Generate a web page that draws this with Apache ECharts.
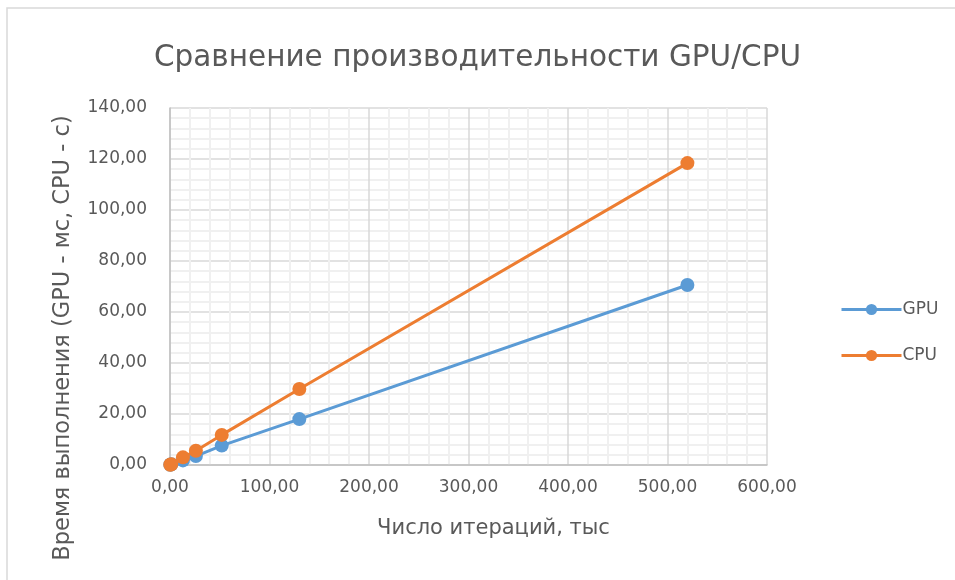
<!DOCTYPE html>
<html>
<head>
<meta charset="utf-8">
<script src="https://cdn.jsdelivr.net/npm/echarts@6/dist/echarts.min.js"></script>
<style>
  html, body { margin: 0; padding: 0; background: #fff; }
  #chart { width: 955px; height: 580px; }
</style>
</head>
<body>
<div id="chart"></div>
<script>
// Iterations (thousands) and run times
const iterations = [0.26, 1.3, 13, 26, 52, 130, 520];
const gpuTime = [0.1, 0.3, 1.8, 3.5, 7.6, 18.0, 70.6];
const cpuTime = [0.1, 0.3, 3.0, 5.6, 11.8, 29.8, 118.4];
const seriesNames = ['GPU', 'CPU'];
const seriesColors = ['#5b9bd5', '#ed7d31'];

const FONT = '"DejaVu Sans", "Open Sans", sans-serif';
const TEXT = '#595959';
const fmt = v => v.toFixed(2).replace('.', ',');

const pairs = (xs, ys) => xs.map((x, i) => [x, ys[i]]);

const chart = echarts.init(document.getElementById('chart'), null, { renderer: 'canvas' });

const makeSeries = (name, data, color) => ({
  name,
  type: 'line',
  data,
  symbol: 'circle',
  symbolSize: 14,
  lineStyle: { color, width: 3 },
  itemStyle: { color },
  emphasis: { disabled: true },
  animation: false,
  z: name === 'CPU' ? 3 : 2
});

chart.setOption({
  backgroundColor: '#ffffff',
  animation: false,
  title: {
    text: 'Сравнение производительности GPU/CPU',
    left: 'center',
    top: 38,
    textStyle: { fontFamily: FONT, fontSize: 29.5, fontWeight: 'normal', color: TEXT }
  },
  graphic: [{
    type: 'rect',
    shape: { x: 7, y: 8, width: 960, height: 600 },
    style: { fill: 'none', stroke: '#d9d9d9', lineWidth: 1.5 },
    silent: true,
    z: -1
  }, {
    // vertical axis title, placed by hand so it can sit below the plot's mid-line
    type: 'text',
    x: 63,
    y: 338,
    rotation: Math.PI / 2,
    silent: true,
    style: {
      text: 'Время выполнения (GPU - мс, CPU - с)',
      fontFamily: FONT,
      fontSize: 22.5,
      fill: TEXT,
      align: 'center',
      verticalAlign: 'middle'
    }
  }],
  legend: {
    orient: 'vertical',
    left: 835,
    top: 296,
    itemGap: 29,
    itemWidth: 60,
    itemHeight: 14,
    data: seriesNames,
    lineStyle: { width: 3 },
    textStyle: { fontFamily: FONT, fontSize: 17, color: TEXT, padding: [0, 0, 0, -4] }
  },
  grid: { left: 170, right: 188, top: 108, bottom: 115 },
  xAxis: {
    type: 'value',
    min: 0, max: 600, interval: 100,
    name: 'Число итераций, тыс',
    nameLocation: 'middle',
    nameGap: 53,
    nameTextStyle: { fontFamily: FONT, fontSize: 21, color: TEXT, padding: [0, 0, 0, 50] },
    axisLine: { show: true, lineStyle: { color: '#bfbfbf', width: 1.5 } },
    axisTick: { show: false },
    axisLabel: { fontFamily: FONT, fontSize: 17, color: TEXT, margin: 14, formatter: fmt },
    splitLine: { show: true, lineStyle: { color: '#d9d9d9', width: 1.5 } },
    minorTick: { show: false, splitNumber: 5 },
    minorSplitLine: { show: true, lineStyle: { color: '#f0f0f0', width: 2 } }
  },
  yAxis: {
    type: 'value',
    min: 0, max: 140, interval: 20,
    axisLine: { show: true, lineStyle: { color: '#bfbfbf', width: 1.5 } },
    axisTick: { show: false },
    axisLabel: { fontFamily: FONT, fontSize: 17, color: TEXT, margin: 23, formatter: fmt },
    splitLine: { show: true, lineStyle: { color: '#d9d9d9', width: 1.5 } },
    minorTick: { show: false, splitNumber: 5 },
    minorSplitLine: { show: true, lineStyle: { color: '#f0f0f0', width: 2 } }
  },
  series: [
    makeSeries(seriesNames[0], pairs(iterations, gpuTime), seriesColors[0]),
    makeSeries(seriesNames[1], pairs(iterations, cpuTime), seriesColors[1])
  ]
});
</script>
</body>
</html>
